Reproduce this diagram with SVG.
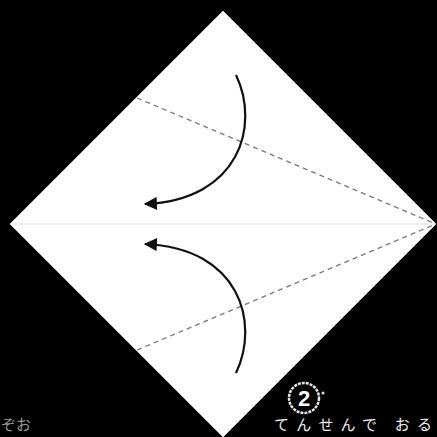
<svg xmlns="http://www.w3.org/2000/svg" width="437" height="437" viewBox="0 0 437 437">
<style>
.fold{stroke:#777;stroke-width:1.3;stroke-dasharray:5 4;fill:none}
.arc{stroke:#111;stroke-width:2.2;fill:none}
.lbl{font-family:"Noto Sans CJK JP","Noto Sans",sans-serif;fill:#eee;font-size:15px}
</style>
<defs>
<marker id="ah" viewBox="0 0 10 10" refX="9" refY="5" markerWidth="8" markerHeight="6" orient="auto" markerUnits="strokeWidth">
<path d="M0,0 L10,5 L0,10 Z" fill="#111"/>
</marker>
</defs>
<rect width="437" height="437" fill="#000"/>
<g id="paper">
<polygon points="223,11 436,224 223,437 10,224" fill="#fff" stroke="#ccc" stroke-width="1"/>
<line x1="10" y1="224" x2="436" y2="224" stroke="#ddd" stroke-width="1.2"/>
</g>
<g id="connectors">
<line class="fold" x1="137" y1="98" x2="436" y2="224"/>
<line class="fold" x1="137" y1="350" x2="436" y2="224"/>
<path class="arc" d="M236,75 C260,125 240,200 145,204" marker-end="url(#ah)"/>
<path class="arc" d="M236,373 C260,323 240,248 145,244" marker-end="url(#ah)"/>
</g>
<g id="step">
<circle cx="304" cy="398" r="15" fill="#000" stroke="#e5e5e5" stroke-width="2.5" stroke-dasharray="3 1"/>
<text x="304" y="406" text-anchor="middle" font-family="Liberation Sans,Arial,sans-serif" font-weight="bold" font-size="22" fill="#fff">2</text>
<circle cx="323" cy="393" r="1.5" fill="#ddd"/>
</g>
<g id="caption">
<text class="lbl" x="274" y="430" textLength="158" lengthAdjust="spacing">てんせんで おる</text>
<text class="lbl" x="1" y="430" style="fill:#999">ぞお</text>
</g>
</svg>
